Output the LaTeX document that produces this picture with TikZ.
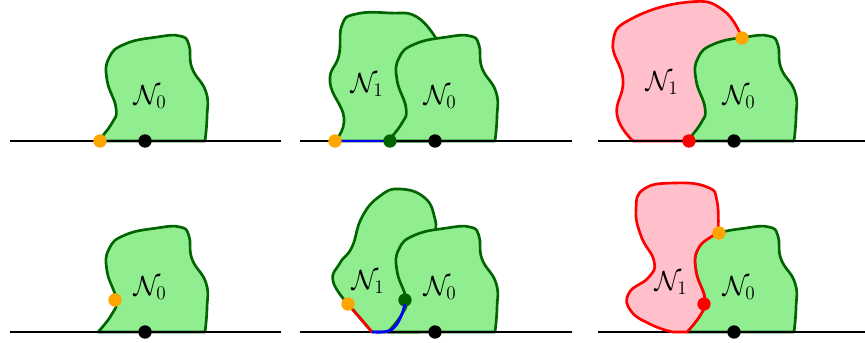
\documentclass[tikz,border=0pt]{standalone}
\definecolor{lgreen}{HTML}{90EE90}
\definecolor{dgreen}{HTML}{006400}
\definecolor{lpink}{HTML}{FFC0CB}
\definecolor{dorange}{HTML}{FFA500}
\tikzset{
  zone/.style={fill=lgreen, draw=dgreen, line width=2pt, line join=round},
  pinkzone/.style={fill=lpink, draw=red, line width=2pt, line join=round},
  groundline/.style={line width=2.1pt, black},
  dot/.style={circle, inner sep=0pt, minimum size=10pt},
  lbl/.style={font=\fontsize{20}{24}\selectfont, inner sep=0pt},
  blueline/.style={blue, line width=2.1pt},
  redline/.style={red, line width=2.1pt},
  sm/.style={smooth, tension=0.8},
}
\newcommand\drawNzero{\draw[zone] plot[sm] coordinates {(98,141) (112,123) (116,108) (107,80) (109,58) (125,44) (157,37) (180,36) (189,45) (192,68) (206,92) (207,117) (205,141)} -- cycle;}
\begin{document}
\begin{tikzpicture}[x=0.75pt, y=-0.75pt]
\useasboundingbox (0,0) rectangle (865,343);
% ---------- top left
\begin{scope}
  \drawNzero
  \coordinate (a1) at (10,141); \coordinate (b1) at (281,141);
  \draw[groundline] (a1) -- (b1);
  \node[lbl] (n0a) at (150,97) {$\mathcal{N}_0$};
  \node[dot, fill=dorange] (oa) at (100,141) {};
  \node[dot, fill=black] (ka) at (145,141) {};
\end{scope}
% ---------- top middle
\begin{scope}[shift={(290,0)}]
  \draw[zone] plot[sm] coordinates {(45,141) (54,118) (40,82) (49,55) (52,25) (66,14) (100,13) (127,17) (147,40)} -- (155,80) -- (150,141) -- cycle;
  \drawNzero
  \coordinate (a2) at (10,141); \coordinate (b2) at (282,141);
  \draw[groundline] (a2) -- (b2);
  \node[lbl] (n1b) at (77,85) {$\mathcal{N}_1$};
  \node[lbl] (n0b) at (150,97) {$\mathcal{N}_0$};
  \node[dot, fill=dorange] (ob) at (45,141) {};
  \node[dot, fill=dgreen] (gb) at (100,141) {};
  \node[dot, fill=black] (kb) at (145,141) {};
  \draw[blueline] (ob) -- (gb);
\end{scope}
% ---------- top right
\begin{scope}[shift={(589,0)}]
  \draw[pinkzone] plot[sm] coordinates {(44,141) (28,115) (34,80) (24,42) (44,18) (100,2) (134,10) (153,38)} -- (150,70) -- (125,125) -- (100,141) -- cycle;
  \drawNzero
  \coordinate (a3) at (9,141); \coordinate (b3) at (285,141);
  \draw[groundline] (a3) -- (b3);
  \node[lbl] (n1c) at (73,83) {$\mathcal{N}_1$};
  \node[lbl] (n0c) at (150,97) {$\mathcal{N}_0$};
  \node[dot, fill=red] (rc) at (100,141) {};
  \node[dot, fill=dorange] (oc) at (153,38) {};
  \node[dot, fill=black] (kc) at (145,141) {};
\end{scope}
% ---------- bottom left
\begin{scope}[shift={(0,191)}]
  \drawNzero
  \coordinate (a4) at (10,141); \coordinate (b4) at (281,141);
  \draw[groundline] (a4) -- (b4);
  \node[lbl] (n0d) at (150,97) {$\mathcal{N}_0$};
  \node[dot, fill=dorange] (od) at (115,109) {};
  \node[dot, fill=black] (kd) at (145,141) {};
\end{scope}
% ---------- bottom middle
\begin{scope}[shift={(290,191)}]
  \draw[zone] plot[sm] coordinates {(58,113) (43,90) (50,72) (62,56) (72,26) (90,5) (110,-2) (135,7) (145,28) (145,40)} -- (150,80) -- (130,141) -- (82,141) -- cycle;
  \drawNzero
  \coordinate (a5) at (10,141); \coordinate (b5) at (282,141);
  \draw[groundline] (a5) -- (b5);
  \coordinate (f5) at (82,141);
  \node[lbl] (n1e) at (78,91) {$\mathcal{N}_1$};
  \node[lbl] (n0e) at (150,97) {$\mathcal{N}_0$};
  \node[dot, fill=dorange] (oe) at (58,113) {};
  \node[dot, fill=dgreen] (ge) at (115,109) {};
  \node[dot, fill=black] (ke) at (145,141) {};
  \draw[redline] (oe) -- (f5);
  \draw[blueline] plot[smooth] coordinates {(82,141) (93,141) (101,139) (107,133) (112,123) (115,113)};
\end{scope}
% ---------- bottom right
\begin{scope}[shift={(589,191)}]
  \drawNzero
  \coordinate (a6) at (9,141); \coordinate (b6) at (285,141);
  \draw[groundline] (a6) -- (b6);
  \draw[pinkzone] plot[sm] coordinates {(129,43) (128,10) (118,-4) (85,-8) (55,-2) (47,18) (52,45) (65,70) (60,86) (40,102) (42,120) (63,134) (84,141)} -- (98,141) -- plot[sm] coordinates {(98,141) (112,123) (116,108) (107,80) (109,58) (125,44) (129,43)} -- cycle;
  \node[lbl] (n1f) at (82,92) {$\mathcal{N}_1$};
  \node[lbl] (n0f) at (150,97) {$\mathcal{N}_0$};
  \node[dot, fill=red] (rf) at (115,113) {};
  \node[dot, fill=dorange] (of) at (130,42) {};
  \node[dot, fill=black] (kf) at (145,141) {};
\end{scope}
\end{tikzpicture}
\end{document}
